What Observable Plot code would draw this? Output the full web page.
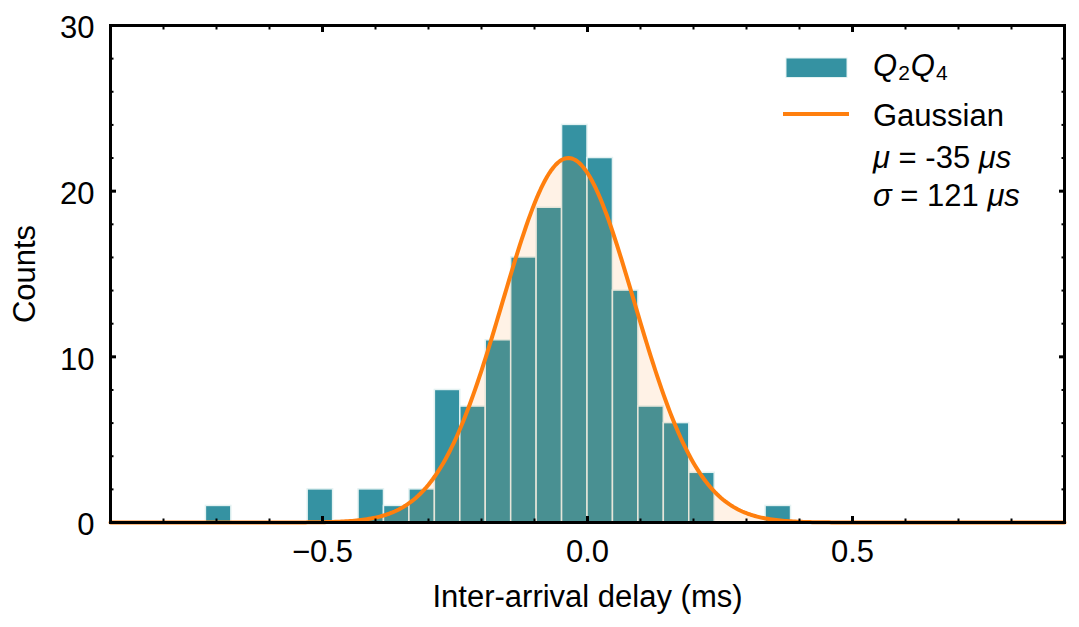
<!DOCTYPE html>
<html><head><meta charset="utf-8">
<script src="https://cdn.jsdelivr.net/npm/d3@7"></script>
<script src="https://cdn.jsdelivr.net/npm/@observablehq/plot@0.6"></script>
<style>body{margin:0;background:#fff}</style>
</head><body><div id="chart"></div>
<script>
// ---- data ----
const binStart = [-0.72, -0.528, -0.432, -0.384, -0.336, -0.288, -0.24, -0.192, -0.144, -0.096, -0.048, 0, 0.048, 0.096, 0.144, 0.192, 0.336];
const counts   = [1, 2, 2, 1, 2, 8, 7, 11, 16, 19, 24, 22, 14, 7, 6, 3, 1];
const binWidth = 0.048;
// fitted Gaussian parameters (ms)
const gaussAmp = 22, gaussMu = -0.036, gaussSigma = 0.124;
const xDomain = [-0.9, 0.9];
const yDomain = [0, 30];
const xMajorTicks = [-0.5, 0, 0.5];
const xMinorTicks = [-0.8, -0.7, -0.6, -0.4, -0.3, -0.2, -0.1, 0.1, 0.2, 0.3, 0.4, 0.6, 0.7, 0.8];
const yMajorTicks = [0, 10, 20, 30];
const yMinorTicks = [2, 4, 6, 8, 12, 14, 16, 18, 22, 24, 26, 28];
const xLabel = "Inter-arrival delay (ms)";
const yLabel = "Counts";
const legendSeries = [["Q", "i"], ["2", "sub"], ["Q", "i"], ["4", "sub"]];
const legendFitLines = [
  [["Gaussian", ""]],
  [["μ", "i"], [" = -35 ", ""], ["μs", "i"]],
  [["σ", "i"], [" = 121 ", ""], ["μs", "i"]]
];

// ---- styles ----
const teal = "#3592a2", orange = "#ff7f0e", edge = "#e4f2f2";
const fs = 31;
const font = "'Liberation Sans', Arial, Helvetica, sans-serif";

const bins = binStart.map((s, i) => ({x1: s, x2: s + binWidth, count: counts[i]}));
const curve = d3.range(xDomain[0], xDomain[1] + 1e-9, 0.004)
  .map(x => ({x, y: gaussAmp * Math.exp(-((x - gaussMu) ** 2) / (2 * gaussSigma ** 2))}));

const chart = Plot.plot({
  width: 1079, height: 627,
  marginLeft: 110, marginRight: 15, marginTop: 25, marginBottom: 105,
  x: {domain: xDomain},
  y: {domain: yDomain},
  style: {fontFamily: font, fontSize: fs + "px", color: "#000", background: "#fff"},
  marks: [
    Plot.rectY(bins, {x1: "x1", x2: "x2", y: "count", fill: teal, stroke: edge, strokeWidth: 1.5}),
    Plot.areaY(curve, {x: "x", y: "y", fill: orange, fillOpacity: 0.1}),
    Plot.lineY(curve, {x: "x", y: "y", stroke: orange, strokeWidth: 4}),
    // inward ticks on all four sides
    Plot.axisX(xMajorTicks, {anchor: "bottom", tickSize: -6, strokeWidth: 3, fill: "none", label: null}),
    Plot.axisX(xMajorTicks, {anchor: "top", tickSize: -6, strokeWidth: 3, fill: "none", label: null}),
    Plot.axisX(xMinorTicks, {anchor: "bottom", tickSize: -3.5, strokeWidth: 2, fill: "none", label: null}),
    Plot.axisX(xMinorTicks, {anchor: "top", tickSize: -3.5, strokeWidth: 2, fill: "none", label: null}),
    Plot.axisY(yMajorTicks, {anchor: "left", tickSize: -6, strokeWidth: 3, fill: "none", label: null}),
    Plot.axisY(yMajorTicks, {anchor: "right", tickSize: -6, strokeWidth: 3, fill: "none", label: null}),
    Plot.axisY(yMinorTicks, {anchor: "left", tickSize: -3.5, strokeWidth: 2, fill: "none", label: null}),
    Plot.axisY(yMinorTicks, {anchor: "right", tickSize: -3.5, strokeWidth: 2, fill: "none", label: null}),
    // tick labels
    Plot.axisX(xMajorTicks, {anchor: "bottom", tickSize: 0, tickPadding: 17, tickFormat: d3.format(".1f"), fontSize: fs, label: null}),
    Plot.axisY(yMajorTicks, {anchor: "left", tickSize: 0, tickPadding: 16, dy: 3, fontSize: fs, label: null}),
    // axis titles
    Plot.text([xLabel], {frameAnchor: "bottom", dy: 74.8, lineAnchor: "middle", textAnchor: "middle", text: d => d, fontSize: fs}),
    Plot.text([yLabel], {frameAnchor: "left", dx: -85, rotate: -90, lineAnchor: "middle", textAnchor: "middle", text: d => d, fontSize: fs}),
    Plot.frame({stroke: "#000", strokeWidth: 3})
  ]
});
document.getElementById("chart").appendChild(chart);

// ---- legend ----
const svg = d3.select(chart);
const lg = svg.append("g").attr("font-family", font).attr("font-size", fs)
  .attr("fill", "#000").attr("text-anchor", "start");
lg.append("rect").attr("x", 786).attr("y", 58).attr("width", 61).attr("height", 19.5)
  .attr("fill", teal).attr("stroke", edge).attr("stroke-width", 1);
lg.append("line").attr("x1", 783).attr("x2", 849).attr("y1", 114).attr("y2", 114)
  .attr("stroke", orange).attr("stroke-width", 4);

const t1 = lg.append("text").attr("x", 873).attr("y", 76);
let prevSub = false;
legendSeries.forEach(([s, kind]) => {
  const sp = t1.append("tspan").text(s);
  if (kind === "i") { sp.attr("font-style", "italic"); if (prevSub) sp.attr("dy", -4).attr("dx", 1); prevSub = false; }
  else { sp.attr("font-size", 21).attr("dy", 4).attr("dx", 1); prevSub = true; }
});

const baselines = [126, 168, 205.5];
legendFitLines.forEach((parts, j) => {
  const t = lg.append("text").attr("x", 873).attr("y", baselines[j]).style("white-space", "pre");
  parts.forEach(([s, kind]) => {
    const sp = t.append("tspan").text(s);
    if (kind === "i") sp.attr("font-style", "italic");
  });
});
</script>
</body></html>
